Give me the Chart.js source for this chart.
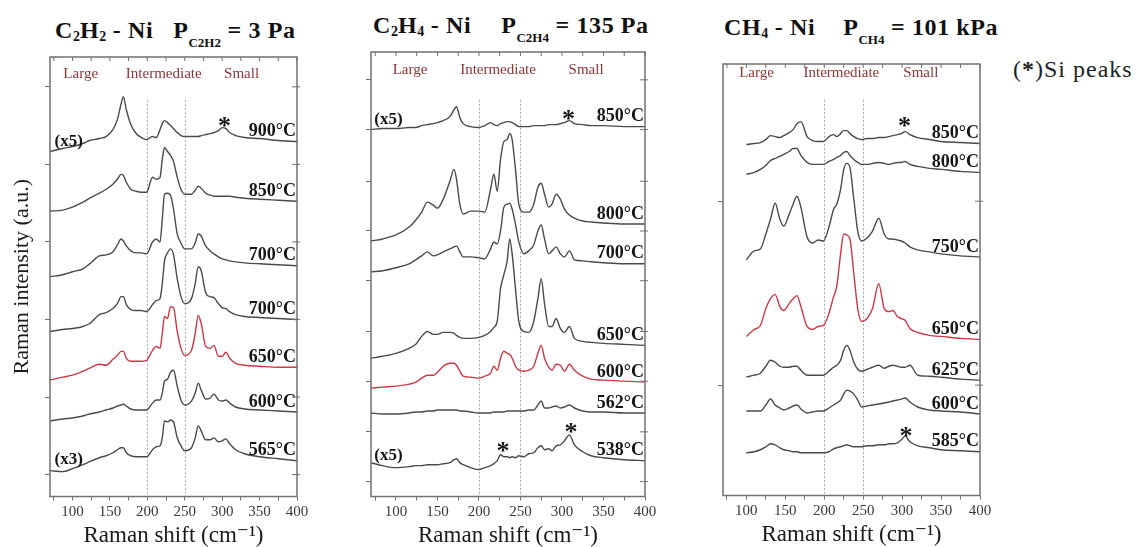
<!DOCTYPE html>
<html>
<head>
<meta charset="utf-8">
<script src="https://cdn.jsdelivr.net/npm/chart.js@4.4.0/dist/chart.umd.min.js"></script>
<style>
  body { margin: 0; background: #fff; width: 1141px; height: 547px; position: relative; overflow: hidden; }
  canvas { position: absolute; top: 0; }
  .ttl { position: absolute; font: bold 24px 'Liberation Serif', serif; color: #111; white-space: nowrap; line-height: 26px; letter-spacing: 0.6px; }
  .ttl sub { font-size: 14px; vertical-align: -3px; line-height: 0; letter-spacing: 0; }
  .ttl sub.lo { font-size: 13px; vertical-align: -9px; }
  .gap { display: inline-block; }
  #note { position: absolute; left: 1013px; top: 56px; font: 24px 'Liberation Serif', serif; color: #222; letter-spacing: 1px; line-height: 26px; white-space: nowrap; }
</style>
</head>
<body>
<div class="ttl" style="left:55px;top:17px">C<sub>2</sub>H<sub>2</sub> - Ni<span class="gap" style="width:20px"></span>P<sub class="lo">C2H2</sub> = 3 Pa</div>
<div class="ttl" style="left:373px;top:12px">C<sub>2</sub>H<sub>4</sub> - Ni<span class="gap" style="width:30px"></span>P<sub class="lo">C2H4</sub> = 135 Pa</div>
<div class="ttl" style="left:724px;top:14px">CH<sub>4</sub> - Ni<span class="gap" style="width:28px"></span>P<sub class="lo">CH4</sub> = 101 kPa</div>
<div id="note">(<b>*</b>)Si peaks</div>

<canvas id="c1" width="320" height="547" style="left:0px"></canvas>
<canvas id="c2" width="330" height="547" style="left:340px"></canvas>
<canvas id="c3" width="320" height="547" style="left:690px"></canvas>

<script>
// ---------------------------
// DATA (Raman shift in cm-1, intensity in a.u. incl. stacking offset)
// ---------------------------
const xTicks = [75, 100, 125, 150, 175, 200, 225, 250, 275, 300, 325, 350, 375, 400];
const regionNames = ["Large", "Intermediate", "Small"];

// C2H2 - Ni
const p1Shift = [70, 87, 100, 114, 123, 136, 145, 154, 160, 165, 168, 172, 178, 185, 192, 199, 207, 212, 217, 220, 223, 227, 231, 235, 240, 245, 250, 259, 264, 268, 272, 278, 284, 289, 295, 300, 305, 310, 318, 330, 350, 375, 400];
const p1Temps = ["900°C", "850°C", "700°C", "700°C", "650°C", "600°C", "565°C"];
const p1I900 = [348, 351, 353, 356, 359, 361, 363, 370, 380, 396, 403, 390, 375, 366, 362, 360, 363, 362, 370, 376, 379, 377, 374, 371, 367, 364, 363, 363, 363, 363, 364, 365, 366, 367, 369, 372, 371, 367, 364, 362, 361, 359, 358];
const p1I850 = [288, 289, 292, 297, 301, 306, 310, 315, 320, 325, 324, 317, 310, 308, 307, 307, 322, 320, 322, 340, 352, 348, 344, 338, 322, 310, 305, 305, 309, 313, 311, 306, 304, 303, 303, 303, 303, 303, 302, 301, 300, 299, 298];
const p1I700a = [222, 224, 227, 230, 235, 243, 244, 247, 254, 260, 258, 253, 248, 246, 246, 245, 257, 260, 257, 280, 305, 306, 304, 290, 265, 256, 250, 250, 256, 265, 263, 253, 248, 245, 242, 240, 239, 238, 237, 236, 235, 234, 233];
const p1I700b = [167, 169, 170, 172, 175, 184, 186, 190, 195, 202, 202, 194, 189, 188, 188, 187, 194, 198, 200, 215, 238, 246, 250, 244, 220, 202, 195, 200, 215, 232, 228, 206, 202, 201, 195, 191, 190, 187, 184, 182, 181, 180, 179];
const p1I650 = [118, 121, 123, 127, 130, 134, 133, 139, 143, 147, 147, 140, 137, 137, 137, 138, 148, 152, 150, 165, 182, 180, 192, 191, 167, 150, 143, 148, 165, 183, 175, 152, 150, 153, 142, 142, 146, 140, 135, 133, 132, 131, 131];
const p1I600 = [77, 79, 80, 82, 84, 86, 88, 90, 92, 93, 94, 92, 89, 88, 88, 88, 95, 98, 98, 105, 117, 119, 126, 128, 112, 98, 93, 97, 105, 115, 108, 99, 100, 104, 98, 97, 98, 95, 91, 89, 88, 87, 86];
const p1I565 = [27, 26, 29, 33, 36, 40, 42, 45, 48, 50, 50, 45, 42, 41, 41, 41, 48, 51, 52, 60, 77, 76, 78, 76, 60, 52, 47, 50, 60, 72, 67, 58, 58, 60, 56, 57, 59, 54, 48, 44, 41, 39, 37];
const p1YTicks = [23, 101, 179, 257, 335, 413];

// C2H4 - Ni
const p2Shift = [70, 84, 100, 116, 124, 131, 138, 145, 150, 157, 165, 170, 173, 177, 181, 190, 200, 207, 214, 218, 222, 226, 230, 234, 237, 240, 244, 248, 254, 260, 266, 271, 275, 279, 284, 288, 293, 298, 303, 309, 315, 325, 335, 350, 375, 400];
const p2Temps = ["850°C", "800°C", "700°C", "650°C", "600°C", "562°C", "538°C"];
const p2I850 = [370, 371, 371, 372, 372, 374, 375, 376, 377, 379, 383, 390, 393, 382, 376, 373, 372, 374, 377, 375, 374, 376, 377, 378, 378, 377, 375, 373, 373, 373, 374, 374, 374, 374, 375, 375, 375, 376, 377, 379, 376, 375, 374, 374, 373, 373];
const p2I800 = [258, 260, 264, 272, 279, 287, 297, 294, 291, 300, 318, 330, 320, 295, 285, 288, 288, 287, 310, 325, 308, 340, 358, 360, 366, 360, 330, 295, 287, 287, 295, 312, 316, 305, 292, 295, 305, 300, 290, 284, 281, 278, 277, 276, 275, 275];
const p2I700 = [227, 228, 231, 235, 239, 243, 247, 243, 244, 247, 250, 252, 253, 247, 242, 242, 241, 240, 250, 257, 255, 268, 292, 295, 296, 290, 275, 257, 245, 248, 254, 268, 274, 260, 245, 248, 252, 245, 242, 248, 239, 238, 237, 236, 235, 235];
const p2I650 = [140, 142, 145, 150, 154, 162, 167, 164, 164, 166, 166, 165, 163, 161, 160, 160, 161, 163, 167, 171, 177, 210, 224, 238, 260, 245, 210, 177, 167, 166, 177, 200, 220, 195, 172, 172, 180, 170, 166, 172, 160, 157, 156, 155, 154, 153];
const p2I600 = [110, 111, 112, 114, 116, 120, 123, 123, 126, 132, 135, 135, 133, 127, 122, 121, 120, 122, 125, 132, 128, 140, 147, 145, 144, 140, 132, 128, 127, 128, 132, 145, 153, 140, 131, 128, 134, 133, 127, 134, 128, 122, 119, 118, 117, 116];
const p2I562 = [85, 84, 84, 85, 86, 86, 87, 87, 88, 88, 88, 88, 88, 87, 87, 86, 85, 85, 85, 86, 86, 86, 86, 87, 87, 87, 87, 87, 87, 88, 88, 93, 97, 90, 90, 91, 92, 90, 91, 93, 90, 87, 86, 86, 85, 85];
const p2I538 = [35, 32, 30, 31, 32, 32, 33, 33, 33, 34, 35, 38, 39, 35, 33, 30, 28, 30, 32, 34, 37, 43, 41, 41, 40, 41, 40, 42, 41, 44, 45, 50, 52, 48, 49, 47, 52, 53, 57, 63, 53, 46, 42, 40, 38, 37];
const p2YTicks = [16, 66, 117, 167, 218, 268, 318, 370, 420];

// CH4 - Ni
const p3Shift = [100, 110, 118, 125, 131, 137, 143, 148, 155, 160, 165, 170, 178, 185, 192, 199, 206, 212, 216, 221, 225, 229, 233, 238, 243, 248, 255, 262, 270, 277, 283, 288, 294, 299, 304, 310, 320, 335, 350, 375, 400];
const p3Temps = ["850°C", "800°C", "750°C", "650°C", "625°C", "600°C", "585°C"];
const p3I850 = [355, 356, 357, 360, 364, 363, 362, 364, 367, 370, 376, 378, 363, 359, 358, 358, 363, 365, 363, 366, 369, 369, 366, 363, 361, 360, 361, 361, 362, 362, 363, 364, 365, 366, 368, 365, 362, 360, 358, 357, 356];
const p3I800 = [325, 327, 330, 334, 339, 341, 343, 345, 348, 351, 351, 344, 337, 335, 335, 335, 338, 340, 342, 344, 347, 348, 344, 340, 337, 335, 335, 336, 337, 336, 335, 336, 337, 337, 338, 335, 333, 331, 330, 328, 327];
const p3I750 = [239, 248, 250, 265, 280, 296, 280, 273, 285, 295, 303, 292, 262, 256, 259, 258, 272, 290, 295, 310, 330, 336, 332, 300, 268, 258, 261, 268, 281, 265, 260, 260, 259, 258, 256, 252, 249, 247, 245, 243, 242];
const p3I650 = [162, 169, 173, 190, 200, 204, 192, 188, 195, 200, 203, 192, 172, 169, 172, 173, 185, 202, 212, 245, 265, 264, 260, 225, 190, 177, 180, 190, 215, 190, 187, 188, 182, 180, 178, 170, 166, 163, 162, 160, 159];
const p3I625 = [121, 123, 125, 132, 138, 136, 132, 131, 131, 132, 132, 128, 123, 123, 123, 123, 127, 131, 133, 138, 148, 153, 148, 136, 129, 127, 129, 131, 133, 130, 132, 133, 132, 131, 131, 133, 123, 122, 121, 119, 118];
const p3I600 = [87, 87, 87, 93, 99, 93, 90, 88, 90, 92, 93, 89, 85, 86, 87, 87, 90, 93, 95, 98, 104, 108, 107, 104, 98, 91, 92, 93, 94, 95, 96, 97, 98, 99, 100, 96, 91, 88, 87, 86, 84];
const p3I585 = [45, 46, 48, 51, 54, 53, 50, 48, 47, 46, 46, 45, 45, 45, 45, 45, 46, 49, 50, 51, 52, 53, 52, 51, 51, 51, 52, 52, 53, 53, 54, 54, 55, 58, 62, 56, 52, 50, 48, 47, 46];
const p3YTicks = [113, 298];

// ---------------------------
// DRAWING HELPERS
// ---------------------------
const serif = "'Liberation Serif', 'DejaVu Serif', serif";
const GREY = "#4a4a4a";
const RED = "#cc3844";

const decor = {
  id: "decor",
  beforeDatasetsDraw(chart, args, o) {
    const { ctx, chartArea: a, scales: { x, y } } = chart;
    ctx.save();
    ctx.strokeStyle = "#a8a8a8";
    ctx.lineWidth = 1;
    ctx.setLineDash([2, 2]);
    [200, 250].forEach(v => {
      const px = Math.round(x.getPixelForValue(v)) + 0.5;
      ctx.beginPath();
      ctx.moveTo(px, y.getPixelForValue(400));
      ctx.lineTo(px, a.bottom);
      ctx.stroke();
    });
    ctx.restore();
  },
  afterDatasetsDraw(chart, args, o) {
    const { ctx, chartArea: a, scales: { x, y } } = chart;
    ctx.save();
    // frame + mirrored ticks
    ctx.strokeStyle = "#707070";
    ctx.lineWidth = 1.5;
    ctx.strokeRect(a.left, a.top, a.right - a.left, a.bottom - a.top);
    ctx.lineWidth = 1;
    x.ticks.forEach(t => {
      const px = x.getPixelForValue(t.value);
      ctx.beginPath(); ctx.moveTo(px, a.top); ctx.lineTo(px, a.top + 4); ctx.stroke();
    });
    y.ticks.forEach(t => {
      const py = y.getPixelForValue(t.value);
      ctx.beginPath(); ctx.moveTo(a.right - 5, py); ctx.lineTo(a.right + 3, py); ctx.stroke();
    });

    // Large / Intermediate / Small
    ctx.fillStyle = "#8e3434";
    ctx.font = "15px " + serif;
    ctx.textAlign = "center";
    ctx.textBaseline = "middle";
    regionNames.forEach((n, i) => ctx.fillText(n, x.getPixelForValue(o.regionX[i]), y.getPixelForValue(o.regionY)));

    // temperature at the end of each spectrum
    ctx.fillStyle = "#151515";
    ctx.font = "bold 18px " + serif;
    ctx.textAlign = "right";
    chart.data.datasets.forEach(ds => {
      const last = ds.data[ds.data.length - 1];
      ctx.fillText(ds.label, a.right - 1, y.getPixelForValue(last.y) - 10);
    });

    // (x5) (x3)
    ctx.font = "bold 17px " + serif;
    ctx.textAlign = "left";
    o.marks.forEach(m => ctx.fillText(m.text, x.getPixelForValue(m.x), y.getPixelForValue(m.y)));

    // Si peaks
    ctx.font = "bold 26px " + serif;
    ctx.textAlign = "center";
    ctx.textBaseline = "alphabetic";
    o.stars.forEach(s => ctx.fillText("*", x.getPixelForValue(s.x), y.getPixelForValue(s.y) + 14));
    ctx.restore();
  }
};

function makePanel(id, shift, series, temps, redIndex, yMin, yMax, yTicks, pad, extra, yTitle) {
  const datasets = series.map((vals, i) => ({
    label: temps[i],
    data: shift.map((s, k) => ({ x: s, y: vals[k] })),
    borderColor: i === redIndex ? RED : GREY,
    borderWidth: 1.4,
    pointRadius: 0,
    cubicInterpolationMode: "monotone",
    fill: false
  }));

  return new Chart(document.getElementById(id), {
    type: "line",
    data: { datasets },
    plugins: [decor],
    options: {
      responsive: false,
      animation: false,
      devicePixelRatio: 1,
      layout: { padding: pad },
      plugins: {
        legend: { display: false },
        tooltip: { enabled: false },
        decor: extra
      },
      scales: {
        x: {
          type: "linear",
          min: 70,
          max: 400,
          afterBuildTicks: s => { s.ticks = xTicks.map(v => ({ value: v })); },
          ticks: {
            autoSkip: false,
            maxRotation: 0,
            padding: 3,
            color: "#3a3a3a",
            font: { family: serif, size: 15, lineHeight: 1.1 },
            callback: v => (v % 50 === 0 ? String(v) : "")
          },
          grid: { drawOnChartArea: false, tickLength: 4, color: "#707070" },
          border: { display: false },
          title: {
            display: true,
            text: "Raman shift (cm⁻¹)",
            color: "#1a1a1a",
            padding: { top: 1, bottom: 0 },
            font: { family: serif, size: 23, lineHeight: 1 }
          }
        },
        y: {
          min: yMin,
          max: yMax,
          afterBuildTicks: s => { s.ticks = yTicks.map(v => ({ value: v })); },
          ticks: { display: false },
          grid: { drawOnChartArea: false, tickLength: 5, color: "#707070" },
          border: { display: false },
          title: {
            display: !!yTitle,
            text: yTitle || "",
            color: "#1a1a1a",
            padding: { top: 0, bottom: 12 },
            font: { family: serif, size: 22, lineHeight: 1 }
          }
        }
      }
    }
  });
}

makePanel("c1", p1Shift,
  [p1I900, p1I850, p1I700a, p1I700b, p1I650, p1I600, p1I565],
  p1Temps, 4, 1, 443, p1YTicks,
  { left: 11, right: 23, top: 57, bottom: 0 },
  {
    regionX: [111, 222, 326],
    regionY: 426,
    marks: [{ text: "(x5)", x: 76, y: 358 }, { text: "(x3)", x: 76, y: 38 }],
    stars: [{ x: 303, y: 380 }]
  },
  "Raman intensity (a.u.)");

makePanel("c2", p2Shift,
  [p2I850, p2I800, p2I700, p2I650, p2I600, p2I562, p2I538],
  p2Temps, 4, 1, 448, p2YTicks,
  { left: 26, right: 25, top: 52, bottom: 0 },
  {
    regionX: [117, 223, 329],
    regionY: 430,
    marks: [{ text: "(x5)", x: 74, y: 380 }, { text: "(x5)", x: 74, y: 42 }],
    stars: [{ x: 308, y: 387 }, { x: 229, y: 53 }, { x: 311, y: 72 }]
  });

makePanel("c3", p3Shift,
  [p3I850, p3I800, p3I750, p3I650, p3I625, p3I600, p3I585],
  p3Temps, 3, 2, 436, p3YTicks,
  { left: 28, right: 30, top: 64, bottom: 1 },
  {
    regionX: [113, 222, 324],
    regionY: 427,
    marks: [],
    stars: [{ x: 303, y: 380 }, { x: 305, y: 68 }]
  });
</script>
</body>
</html>
